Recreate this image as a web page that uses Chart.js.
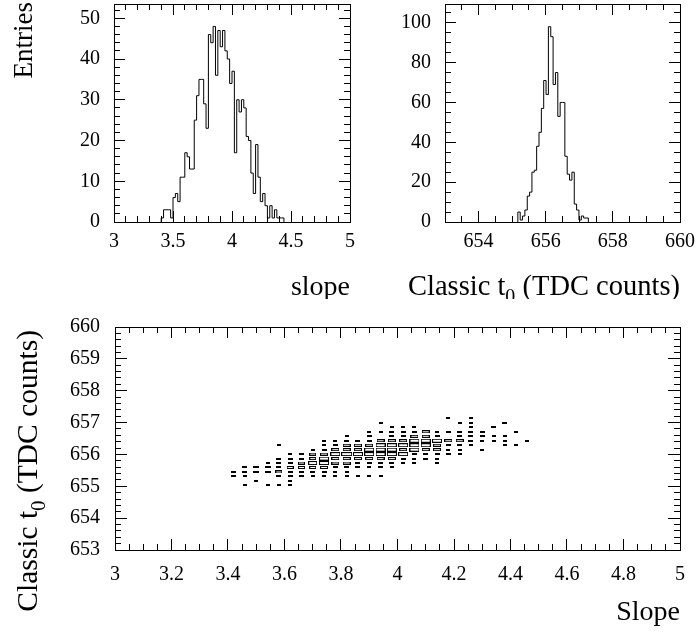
<!DOCTYPE html>
<html>
<head>
<meta charset="utf-8">
<script src="https://cdn.jsdelivr.net/npm/chart.js@4"></script>
<style>
  body { margin: 0; background: #fff; }
  #wrap { position: relative; width: 698px; height: 632px; }
  canvas { position: absolute; }
</style>
</head>
<body>
<div id="wrap">
  <canvas id="slopeHist" width="365" height="299" style="left:0;top:0"></canvas>
  <canvas id="t0Hist" width="333" height="299" style="left:365px;top:0"></canvas>
  <canvas id="boxPlot" width="698" height="332" style="left:0;top:300px"></canvas>
</div>
<script>
// slope histogram: bins of 0.02 starting at 3.40
const slopeStart = 3.40;
const slopeWidth = 0.02;
const slopeCounts = [1, 3, 3, 3, 1, 6, 7, 5, 11, 11, 17, 16, 13, 13, 25, 31, 35, 35, 29, 23,
  46, 44, 48, 36, 47, 43, 47, 42, 40, 34, 37, 17, 30, 27, 30, 28, 21, 20, 12, 7,
  19, 11, 5, 7, 4, 1, 4, 1, 3, 1, 1, 1];
const slopeTicks = [3, 3.5, 4, 4.5, 5];
const entriesTicks = [0, 10, 20, 30, 40, 50];

// classic t0 histogram: bins of 0.07 starting at 655.17
const t0Start = 655.17;
const t0Width = 0.07;
const t0Counts = [5, 1, 3, 6, 13, 15, 25, 26, 38, 45, 57, 71, 64, 98, 93, 69, 75, 53, 60, 60,
  33, 24, 21, 25, 9, 6, 1, 3, 2, 2];
const t0Ticks = [654, 656, 658, 660];
const t0EntriesTicks = [0, 20, 40, 60, 80, 100];

// t0 vs slope: bin centres, one row of counts per t0 bin (bottom row first)
const boxSlope = [3.42, 3.46, 3.50, 3.54, 3.58, 3.62, 3.66, 3.70, 3.74, 3.78, 3.82, 3.86, 3.90, 3.94,
  3.98, 4.02, 4.06, 4.10, 4.14, 4.18, 4.22, 4.26, 4.30, 4.34, 4.38, 4.42, 4.46];
const boxT0 = [655.03, 655.17, 655.31, 655.45, 655.59, 655.73, 655.87, 656.01, 656.15, 656.29,
  656.43, 656.57, 656.71, 656.85, 656.99, 657.13];
const boxCounts = [
  [0,1,0,1,1,1,0,0,0,0,0,0,0,0,0,0,0,0,0,0,0,0,0,0,0,0,0],
  [0,0,1,0,0,1,0,0,0,0,0,0,0,0,0,0,0,0,0,0,0,0,0,0,0,0,0],
  [2,1,0,0,2,2,2,1,1,1,1,1,1,1,0,0,0,0,0,0,0,0,0,0,0,0,0],
  [2,2,3,3,4,2,2,2,2,1,1,0,0,0,0,0,0,0,0,0,0,0,0,0,0,0,0],
  [0,2,3,3,2,4,4,4,5,2,2,2,1,2,1,0,0,0,0,0,0,0,0,0,0,0,0],
  [0,0,0,1,2,2,4,8,9,5,5,2,2,2,2,1,1,0,1,0,0,0,0,0,0,0,0],
  [0,0,0,0,2,2,2,4,9,5,6,5,5,5,5,2,1,2,1,0,0,0,0,0,0,0,0],
  [0,0,0,0,0,1,2,4,5,9,12,10,10,10,10,9,2,2,2,2,1,0,0,0,0,0,0],
  [0,0,0,0,0,0,0,1,2,5,5,5,10,10,10,5,9,5,5,1,1,0,1,0,0,0,0],
  [0,0,0,0,1,0,0,0,1,2,5,5,5,10,10,10,10,9,5,2,2,1,0,0,1,1,0],
  [0,0,0,0,0,0,0,0,1,1,2,2,2,5,5,5,9,9,9,5,5,2,1,1,1,0,1],
  [0,0,0,0,0,0,0,0,0,0,1,0,2,0,2,2,5,5,2,0,2,2,2,1,1,0,0],
  [0,0,0,0,0,0,0,0,0,0,0,0,1,1,2,2,2,5,1,2,2,2,2,0,0,1,0],
  [0,0,0,0,0,0,0,0,0,0,0,0,0,0,1,1,1,0,0,0,0,1,0,2,0,0,0],
  [0,0,0,0,0,0,0,0,0,0,0,0,0,1,0,0,0,0,0,0,1,1,0,0,2,0,0],
  [0,0,0,0,0,0,0,0,0,0,0,0,0,0,0,0,0,0,0,1,0,1,0,0,0,0,0]
];
const boxSlopeTicks = [3, 3.2, 3.4, 3.6, 3.8, 4, 4.2, 4.4, 4.6, 4.8, 5];
const boxT0Ticks = [653, 654, 655, 656, 657, 658, 659, 660];

const serif = "'Liberation Serif', 'Times New Roman', serif";

// step outline through the bin edges
function histPoints(start, width, counts) {
  const pts = [{ x: start, y: 0 }];
  counts.forEach((c, i) => pts.push({ x: start + i * width, y: c }));
  pts.push({ x: start + counts.length * width, y: 0 });
  return pts;
}

// ROOT style frame: ticks inside on all four sides, major + minor
function frameScales(s) {
  const font = { family: serif, size: 20, lineHeight: 1 };
  function one(pos, lim, major, minorStep, len, labels, size, pad) {
    const horiz = pos === 'top' || pos === 'bottom';
    const cfg = {
      type: 'linear', position: pos, min: lim[0], max: lim[1], weight: major ? 1 : 0,
      ticks: {
        display: labels, includeBounds: false, autoSkip: false, maxRotation: 0,
        font: font, color: '#000', padding: pad || 0,
        callback: v => String(Math.round(v * 1000) / 1000)
      },
      grid: {
        display: true, drawOnChartArea: false, drawTicks: true,
        tickLength: -len, tickColor: '#000', tickWidth: 1
      },
      border: { display: !!major, color: '#000', width: 1 },
      afterFit(scale) {
        if (horiz) scale.height = size; else scale.width = size;
        // labels may overhang the frame, the layout is fixed by hand
        scale.paddingTop = scale.paddingBottom = scale.paddingLeft = scale.paddingRight = 0;
      }
    };
    if (major) {
      cfg.afterBuildTicks = scale => { scale.ticks = major.map(v => ({ value: v })); };
    } else {
      cfg.ticks.stepSize = minorStep;
    }
    return cfg;
  }
  return {
    x: one('bottom', s.x, s.xTicks, 0, s.xLen[0], true, s.bottom, s.xPad),
    xMinor: one('bottom', s.x, null, s.xMinor, s.xLen[1], false, 0),
    xTop: one('top', s.x, s.xTicks, 0, s.xLen[0], false, 0),
    xTopMinor: one('top', s.x, null, s.xMinor, s.xLen[1], false, 0),
    y: one('left', s.y, s.yTicks, 0, s.yLen[0], true, s.left, s.yPad),
    yMinor: one('left', s.y, null, s.yMinor, s.yLen[1], false, 0),
    yRight: one('right', s.y, s.yTicks, 0, s.yLen[0], false, 0),
    yRightMinor: one('right', s.y, null, s.yMinor, s.yLen[1], false, 0)
  };
}

// axis titles, right / top aligned like ROOT, with a real subscript
function drawParts(ctx, parts, right, base, size) {
  const main = size + 'px ' + serif, sub = Math.round(size * 0.7) + 'px ' + serif;
  let total = 0;
  parts.forEach(p => { ctx.font = p.sub ? sub : main; total += ctx.measureText(p.t).width; });
  let x = right - total;
  parts.forEach(p => {
    ctx.font = p.sub ? sub : main;
    ctx.fillText(p.t, x, base + (p.sub ? 8 : 0));
    x += ctx.measureText(p.t).width;
  });
}

const axisTitles = {
  id: 'axisTitles',
  afterDraw(chart, args, opts) {
    const { ctx, chartArea: a } = chart;
    ctx.save();
    ctx.fillStyle = '#000';
    ctx.textAlign = 'left';
    ctx.textBaseline = 'alphabetic';
    if (opts.x) drawParts(ctx, opts.x.parts, a.right, a.bottom + opts.x.dy, opts.x.size);
    if (opts.y) {
      ctx.translate(a.left - opts.y.dx, a.top + opts.y.dy);
      ctx.rotate(-Math.PI / 2);
      drawParts(ctx, opts.y.parts, 0, 0, opts.y.size);
    }
    ctx.restore();
  }
};

const t0Title = [{ t: 'Classic t' }, { t: '0', sub: true }, { t: ' (TDC counts)' }];

function histChart(id, start, width, counts, spec, titles, padRight) {
  return new Chart(document.getElementById(id), {
    type: 'line',
    data: {
      datasets: [{
        data: histPoints(start, width, counts),
        stepped: true,
        borderColor: '#000',
        borderWidth: 1,
        pointRadius: 0,
        fill: false
      }]
    },
    options: {
      responsive: false,
      animation: false,
      devicePixelRatio: 1,
      layout: { padding: { top: 4, right: padRight, left: 0, bottom: 0 } },
      plugins: { legend: { display: false }, tooltip: { enabled: false }, axisTitles: titles },
      scales: frameScales(spec)
    },
    plugins: [axisTitles]
  });
}

histChart('slopeHist', slopeStart, slopeWidth, slopeCounts, {
  x: [3, 5], xTicks: slopeTicks, xMinor: 0.1, xLen: [11, 6], xPad: 21, bottom: 77,
  y: [0, 53.5], yTicks: entriesTicks, yMinor: 2, yLen: [11, 6], yPad: 25, left: 114
}, {
  x: { parts: [{ t: 'slope' }], dy: 73, size: 28 },
  y: { parts: [{ t: 'Entries' }], dx: 82, dy: -2, size: 27 }
}, 15);

histChart('t0Hist', t0Start, t0Width, t0Counts, {
  x: [653, 660], xTicks: t0Ticks, xMinor: 0.5, xLen: [11, 6], xPad: 21, bottom: 77,
  y: [0, 109.4], yTicks: t0EntriesTicks, yMinor: 5, yLen: [11, 6], yPad: 25, left: 80
}, {
  x: { parts: t0Title, dy: 73, size: 28.5 }
}, 18);

// 2D box plot
const boxPoints = [];
let boxMax = 0;
boxCounts.forEach((row, r) => row.forEach((v, c) => {
  if (v > 0) {
    boxPoints.push({ x: boxSlope[c], y: boxT0[r], v: v });
    boxMax = Math.max(boxMax, v);
  }
}));

const boxCache = {};
function boxStyle(ctx) {
  if (!ctx.raw) return 'rect';
  const xs = ctx.chart.scales.x, ys = ctx.chart.scales.y;
  const cw = Math.abs(xs.getPixelForValue(boxSlope[1]) - xs.getPixelForValue(boxSlope[0]));
  const ch = Math.abs(ys.getPixelForValue(boxT0[1]) - ys.getPixelForValue(boxT0[0]));
  const f = Math.pow(ctx.raw.v / boxMax, 0.45);
  const w = Math.max(3, Math.round(cw * f));
  const h = Math.max(2, Math.round(ch * f));
  const key = w + 'x' + h;
  if (!boxCache[key]) {
    const c = document.createElement('canvas');
    c.width = w; c.height = h;
    const g = c.getContext('2d');
    g.fillStyle = '#000';
    g.fillRect(0, 0, w, h);
    if (w > 2 && h > 2) { g.fillStyle = '#fff'; g.fillRect(1, 1, w - 2, h - 2); }
    boxCache[key] = c;
  }
  return boxCache[key];
}

new Chart(document.getElementById('boxPlot'), {
  type: 'scatter',
  data: {
    datasets: [{
      data: boxPoints,
      pointStyle: boxStyle,
      pointRadius: 1,
      backgroundColor: '#fff',
      borderColor: '#000'
    }]
  },
  options: {
    responsive: false,
    animation: false,
    devicePixelRatio: 1,
    layout: { padding: { top: 27, right: 18, left: 0, bottom: 0 } },
    plugins: {
      legend: { display: false },
      tooltip: { enabled: false },
      axisTitles: {
        x: { parts: [{ t: 'Slope' }], dy: 70, size: 28 },
        y: { parts: t0Title, dx: 78, dy: 3, size: 29.5 }
      }
    },
    scales: frameScales({
      x: [3, 5], xTicks: boxSlopeTicks, xMinor: 0.05, xLen: [11, 6], xPad: 26, bottom: 82,
      y: [653, 660], yTicks: boxT0Ticks, yMinor: 0.2, yLen: [12, 6], yPad: 27, left: 115
    })
  },
  plugins: [axisTitles]
});
</script>
</body>
</html>
